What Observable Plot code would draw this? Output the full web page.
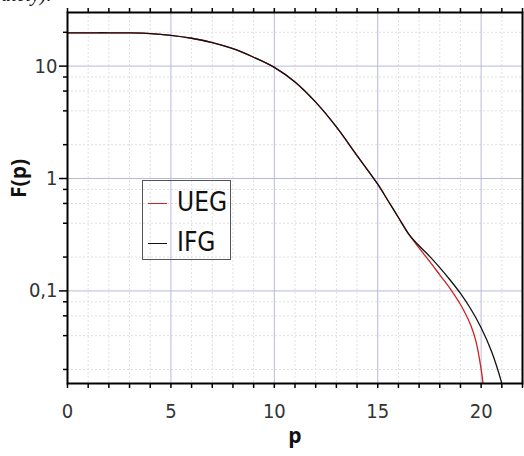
<!DOCTYPE html>
<html>
<head>
<meta charset="utf-8">
<script src="https://cdn.jsdelivr.net/npm/d3@7"></script>
<script src="https://cdn.jsdelivr.net/npm/@observablehq/plot@0.6"></script>
<style>
  html, body { margin: 0; padding: 0; background: white; overflow: hidden; }
  #wrap { position: relative; width: 524px; height: 456px; }
  #cut { position: absolute; left: 1px; top: -17px; font: italic 20px "Liberation Serif", serif; color: #111; }
  #legend { position: absolute; left: 142px; top: 180px; width: 87px; height: 78px; border: 1px solid #555; box-sizing: content-box; }
  .row { position: absolute; left: 0; height: 30px; width: 87px; }
  .sw { position: absolute; left: 5px; width: 19px; top: 50%; height: 0; border-top: 1.5px solid; }
  .lab { position: absolute; left: 34px; top: 50%; transform: translateY(-52%); font: 26px "Liberation Sans Narrow", "DejaVu Sans Condensed", sans-serif; color: #111; line-height: 1; }
</style>
</head>
<body>
<div id="wrap">
  <div id="chart"></div>
  <div id="cut">ately).</div>
  <div id="legend"></div>
</div>
<script>
// Shared part of both curves
const pCommon = [0, 1, 2, 3, 4, 5, 6, 7, 8, 9, 10, 11, 12, 13, 14, 15, 15.5, 16];
const fCommon = [19.8, 19.8, 19.8, 19.75, 19.5, 18.8, 17.7, 16.2, 14.3, 12.0, 9.75, 7.23, 4.78, 2.88, 1.6, 0.89, 0.634, 0.45];

// UEG tail
const pUEG = [16.5, 17, 17.5, 18, 18.5, 19, 19.5, 19.75, 20.0, 20.09, 20.13];
const fUEG = [0.32, 0.241, 0.184, 0.139, 0.105, 0.0757, 0.0495, 0.0355, 0.0201, 0.015, 0.012];

// IFG tail
const pIFG = [16.5, 17, 17.5, 18, 18.5, 19, 19.5, 20, 20.5, 21.0, 21.08];
const fIFG = [0.32, 0.252, 0.204, 0.161, 0.125, 0.095, 0.069, 0.047, 0.029, 0.015, 0.013];

const seriesNames = ["UEG", "IFG"];
const seriesColors = ["#cc2222", "#111111"];

const xTicksMinor = d3.range(0, 23);
const xGridMajor = [5, 10, 15, 20];
const xGridMinor = xTicksMinor.filter(d => d % 5 !== 0);
const yTicksMajor = [0.1, 1, 10];
const yTickLabels = ["0,1", "1", "10"];
const yTicksMinor = [0.02, 0.04, 0.06, 0.08, 0.2, 0.4, 0.6, 0.8, 2, 4, 6, 8, 20];

const ueg = pCommon.map((p, i) => ({p, F: fCommon[i]})).concat(pUEG.map((p, i) => ({p, F: fUEG[i]})));
const ifg = pCommon.map((p, i) => ({p, F: fCommon[i]})).concat(pIFG.map((p, i) => ({p, F: fIFG[i]})));

const tickFont = '"Liberation Sans Narrow", "DejaVu Sans Condensed", sans-serif';

const chart = Plot.plot({
  width: 524,
  height: 456,
  marginLeft: 67,
  marginRight: 2,
  marginTop: 12,
  marginBottom: 73,
  x: {domain: [0, 22], label: null},
  y: {type: "log", domain: [0.015, 30], label: null},
  style: {fontFamily: tickFont, fontSize: "20px", color: "#333", background: "white"},
  marks: [
    Plot.ruleX(xGridMinor, {stroke: "#e0e0e0", strokeDasharray: "2,2", strokeWidth: 1}),
    Plot.ruleY(yTicksMinor, {stroke: "#e0e0e0", strokeDasharray: "2,2", strokeWidth: 1}),
    Plot.ruleX(xGridMajor, {stroke: "#b8b8dc", strokeWidth: 1}),
    Plot.ruleY(yTicksMajor, {stroke: "#b8b8dc", strokeWidth: 1}),
    Plot.line(ueg, {x: "p", y: "F", stroke: seriesColors[0], strokeWidth: 1.3, curve: "catmull-rom", clip: true}),
    Plot.line(ifg, {x: "p", y: "F", stroke: seriesColors[1], strokeWidth: 1.3, curve: "catmull-rom", clip: true}),
    Plot.frame({stroke: "black", strokeWidth: 2}),
    Plot.axisX(xTicksMinor, {anchor: "bottom", tickSize: 5, tickPadding: 15, strokeWidth: 1.5, stroke: "black",
      tickFormat: d => d % 5 === 0 ? String(d) : "", label: null, fill: "#333"}),
    Plot.axisX(xTicksMinor, {anchor: "top", tickSize: 5, strokeWidth: 1.5, stroke: "black", tickFormat: () => "", label: null}),
    Plot.axisY(yTicksMajor, {anchor: "left", tickSize: 8, tickPadding: 2, strokeWidth: 1.5, stroke: "black",
      tickFormat: d => yTickLabels[yTicksMajor.indexOf(d)], label: null, fill: "#333"}),
    Plot.axisY(yTicksMinor, {anchor: "left", tickSize: 4, strokeWidth: 1.5, stroke: "black", tickFormat: () => "", label: null}),
    Plot.text(["p"], {frameAnchor: "bottom", dy: 59, fontFamily: '"Open Sans", sans-serif', fontWeight: "bold", fontSize: 21, fill: "#111"}),
    Plot.text(["F(p)"], {frameAnchor: "left", dx: -48, rotate: -90, fontFamily: '"Open Sans", sans-serif', fontWeight: "bold", fontSize: 21, fill: "#111"})
  ]
});
document.getElementById("chart").appendChild(chart);

const legend = document.getElementById("legend");
seriesNames.forEach((name, i) => {
  const row = document.createElement("div");
  row.className = "row";
  row.style.top = (i === 0 ? 7 : 47) + "px";
  const sw = document.createElement("div");
  sw.className = "sw";
  sw.style.borderTopColor = seriesColors[i];
  const lab = document.createElement("div");
  lab.className = "lab";
  lab.textContent = name;
  row.appendChild(sw);
  row.appendChild(lab);
  legend.appendChild(row);
});
</script>
</body>
</html>
